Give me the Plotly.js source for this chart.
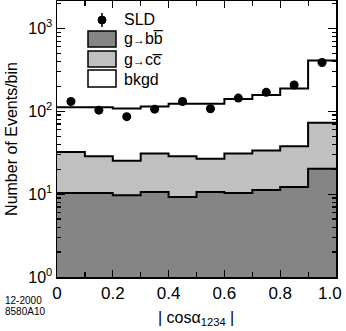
<!DOCTYPE html>
<html><head><meta charset="utf-8">
<script src="https://cdn.plot.ly/plotly-3.0.1.min.js"></script>
<style>html,body{margin:0;padding:0;background:#fff}#c{width:346px;height:331px}</style>
</head><body><div id="c"></div>
<script>
// bin edges of |cos alpha_1234|
const binEdges = [0,0.1,0.2,0.3,0.4,0.5,0.6,0.7,0.8,0.9,1.0];
const binCenters = [0.05,0.15,0.25,0.35,0.45,0.55,0.65,0.75,0.85,0.95];
// stacked histograms (cumulative tops)
const totalMC = [112,112,108,114,123,123,140,157,188,409];   // bkgd + ccbar + bbbar
const ccTop   = [32.2,28.6,25.3,31,28.6,26.8,31,33.7,37.7,72.7]; // ccbar + bbbar
const bbTop   = [10.3,10.3,9.7,10.6,9.25,10.6,10.3,11.2,12.2,20.3];
// SLD data
const sldValues = [131,103,86,106,131,107,144,169,207,387];
const sldErrors = [11.5,10.2,9.3,10.3,11.5,10.3,12,13,14.4,19.7];
const yTickVals = [1,10,100,1000];
const yTickText = ['10<sup>0</sup>','10<sup>1</sup>','10<sup>2</sup>','10<sup>3</sup>'];
const xTickVals = [0,0.2,0.4,0.6,0.8,1.0];
const xTickText = ['0','0.2','0.4','0.6','0.8','1.0'];

function stepY(v){ return v.concat([v[v.length-1]]); }

const minorY = [];
[1,10,100,1000].forEach(d=>{for(let k=2;k<=9;k++){minorY.push(d*k);}});

const traces = [
  {x: binEdges, y: stepY(totalMC), type:'scatter', mode:'lines', line:{shape:'hv', color:'#000', width:2},
   fill:'tozeroy', fillcolor:'#ffffff', showlegend:false, hoverinfo:'skip'},
  {x: binEdges, y: stepY(ccTop), type:'scatter', mode:'lines', line:{shape:'hv', color:'#000', width:2},
   fill:'tozeroy', fillcolor:'#c0c0c0', showlegend:false, hoverinfo:'skip'},
  {x: binEdges, y: stepY(bbTop), type:'scatter', mode:'lines', line:{shape:'hv', color:'#000', width:2},
   fill:'tozeroy', fillcolor:'#858585', showlegend:false, hoverinfo:'skip'},
  {x: binCenters, y: sldValues, type:'scatter', mode:'markers',
   marker:{color:'#000', size:9}, error_y:{type:'data', array:sldErrors, visible:true, color:'#000', thickness:1.5, width:0},
   showlegend:false}
];

const L=57, R=336, T=1, B=277;
function px(x){return (x-L)/(R-L);}
function py(y){return (B-y)/(B-T);}
const shapes = [
  {type:'line', xref:'paper', yref:'paper', x0:px(102), x1:px(102), y0:py(13), y1:py(27), line:{color:'#000', width:1.5}},
  {type:'circle', xref:'paper', yref:'paper', x0:px(98), x1:px(106), y0:py(16), y1:py(24), fillcolor:'#000', line:{color:'#000', width:1}},
  {type:'rect', xref:'paper', yref:'paper', x0:px(88), x1:px(116), y0:py(31), y1:py(47), fillcolor:'#858585', line:{color:'#000', width:1.5}},
  {type:'rect', xref:'paper', yref:'paper', x0:px(88), x1:px(116), y0:py(51), y1:py(67), fillcolor:'#c0c0c0', line:{color:'#000', width:1.5}},
  {type:'rect', xref:'paper', yref:'paper', x0:px(88), x1:px(116), y0:py(70), y1:py(87), fillcolor:'#ffffff', line:{color:'#000', width:1.5}}
];
const ff = 'Liberation Sans, Arial, sans-serif';
const fnt = {family:ff, size:16, color:'#000'};
const arrow = '<span style="font-size:12px">\u2192</span>';
const n = xTickText.length;
const annotations = [
  {xref:'paper', yref:'paper', x:px(122), y:py(20), text:'SLD', showarrow:false, xanchor:'left', yanchor:'middle', font:fnt},
  {xref:'paper', yref:'paper', x:px(122), y:py(39), text:'g'+arrow+'b\u0062\u0305', showarrow:false, xanchor:'left', yanchor:'middle', font:fnt},
  {xref:'paper', yref:'paper', x:px(122), y:py(59), text:'g'+arrow+'c\u0063\u0305', showarrow:false, xanchor:'left', yanchor:'middle', font:fnt},
  {xref:'paper', yref:'paper', x:px(122), y:py(79), text:'bkgd', showarrow:false, xanchor:'left', yanchor:'middle', font:fnt},
  {xref:'paper', yref:'paper', x:px(3), y:py(300), text:'12-2000', showarrow:false, xanchor:'left', yanchor:'middle', font:{family:ff, size:10, color:'#000'}},
  {xref:'paper', yref:'paper', x:px(3), y:py(311), text:'8580A10', showarrow:false, xanchor:'left', yanchor:'middle', font:{family:ff, size:10, color:'#000'}},
  {xref:'paper', yref:'paper', x:px(196), y:py(318), text:'| cos\u03b1<sub>1234</sub> |', showarrow:false, xanchor:'center', yanchor:'middle', font:fnt},
  // last x tick label, nudged left so it stays inside the picture
  {xref:'paper', yref:'paper', x:px(344), y:py(293), text:xTickText[n-1], showarrow:false, xanchor:'right', yanchor:'middle',
   font:{family:ff, size:17, color:'#000'}}
];

const layout = {
  width:346, height:331,
  margin:{l:57, r:10, t:1, b:54, pad:0},
  paper_bgcolor:'#fff', plot_bgcolor:'#fff',
  showlegend:false,
  font:fnt,
  xaxis:{range:[0,1], tickvals:xTickVals, ticktext:xTickText.slice(0,n-1).concat(['']), ticks:'inside', ticklen:7, tickwidth:1.2, tickcolor:'#000',
    showline:true, linecolor:'#000', linewidth:1.5, mirror:'allticks', showgrid:false, zeroline:false, automargin:false,
    tickfont:{family:ff, size:17, color:'#000'},
    minor:{tickvals:[0.1,0.3,0.5,0.7,0.9], ticks:'inside', ticklen:5, tickcolor:'#000', showgrid:false}},
  yaxis:{type:'log', range:[0,3.33], tickvals:yTickVals, ticktext:yTickText, ticks:'inside', ticklen:8, tickwidth:1.2, tickcolor:'#000',
    showline:true, linecolor:'#000', linewidth:1.5, mirror:'allticks', showgrid:false, zeroline:false, automargin:false,
    tickfont:{family:ff, size:16, color:'#000'},
    minor:{tickvals:minorY, ticks:'inside', ticklen:4, tickcolor:'#000', showgrid:false},
    title:{text:'Number of Events/bin', font:fnt, standoff:6}},
  shapes:shapes, annotations:annotations
};
Plotly.newPlot('c', traces, layout, {staticPlot:true, displayModeBar:false});
</script></body></html>
